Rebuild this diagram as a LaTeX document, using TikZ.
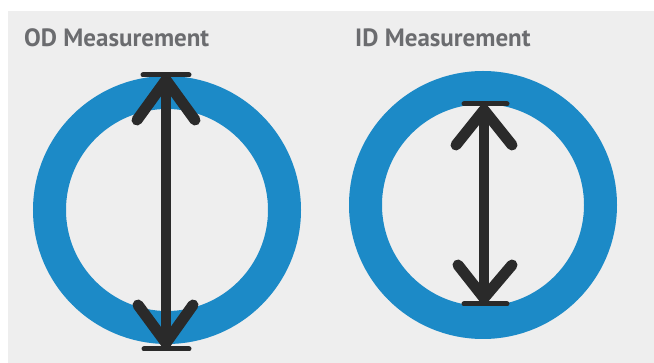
\documentclass[tikz,border=0pt]{standalone}
\usepackage{fontspec}
\setmainfont{PT Sans}
\definecolor{bg}{HTML}{EEEEEE}
\definecolor{ringblue}{HTML}{1C8AC7}
\definecolor{arrowdark}{HTML}{2A2A2A}
\definecolor{titlegray}{HTML}{6B6C6F}
\begin{document}
\begin{tikzpicture}[x=1pt,y=-1pt,
  ring/.style={draw=ringblue,line width=33pt},
  shaft/.style={draw=arrowdark,line width=10pt},
  chevron/.style={draw=arrowdark,line width=11pt,line cap=round,line join=round},
  endbar/.style={draw=arrowdark,line width=5pt,line cap=round},
  title/.style={anchor=base west,inner sep=0pt,text=titlegray,font=\fontsize{25}{28}\selectfont\bfseries}]
\useasboundingbox (0,0) rectangle (654,363);
\fill[white] (0,0) rectangle (654,363);
\fill[bg] (8,11) rectangle (654,363);
% titles
\node[title] (odt) at (24,47) {OD Measurement};
\node[title] (idt) at (355,47) {ID Measurement};
% rings
\coordinate (lc) at (167,210);
\coordinate (rc) at (483,205);
\draw[ring] (lc) circle[radius=117.5];
\draw[ring] (rc) circle[radius=117.5];
% left arrow
\coordinate (lt) at (166,80);
\coordinate (lb) at (166,343);
\coordinate (ltl) at (137,120);
\coordinate (ltr) at (195,120);
\coordinate (lbl) at (138,305);
\coordinate (lbr) at (193,305);
\coordinate (lbar1a) at (143,75);
\coordinate (lbar1b) at (189,75);
\coordinate (lbar2a) at (144,349);
\coordinate (lbar2b) at (189,349);
\draw[shaft] (lt) -- (lb);
\draw[chevron] (ltl) -- (lt) -- (ltr);
\draw[chevron] (lbl) -- (lb) -- (lbr);
\draw[endbar] (lbar1a) -- (lbar1b);
\draw[endbar] (lbar2a) -- (lbar2b);
% right arrow
\coordinate (rt) at (484,110);
\coordinate (rb) at (484,298);
\coordinate (rtl) at (456,145);
\coordinate (rtr) at (512,145);
\coordinate (rbl) at (458,265);
\coordinate (rbr) at (512,265);
\coordinate (rbar1a) at (464,104);
\coordinate (rbar1b) at (507,104);
\coordinate (rbar2a) at (464,304);
\coordinate (rbar2b) at (507,304);
\draw[shaft] (rt) -- (rb);
\draw[chevron] (rtl) -- (rt) -- (rtr);
\draw[chevron] (rbl) -- (rb) -- (rbr);
\draw[endbar] (rbar1a) -- (rbar1b);
\draw[endbar] (rbar2a) -- (rbar2b);
\end{tikzpicture}
\end{document}
